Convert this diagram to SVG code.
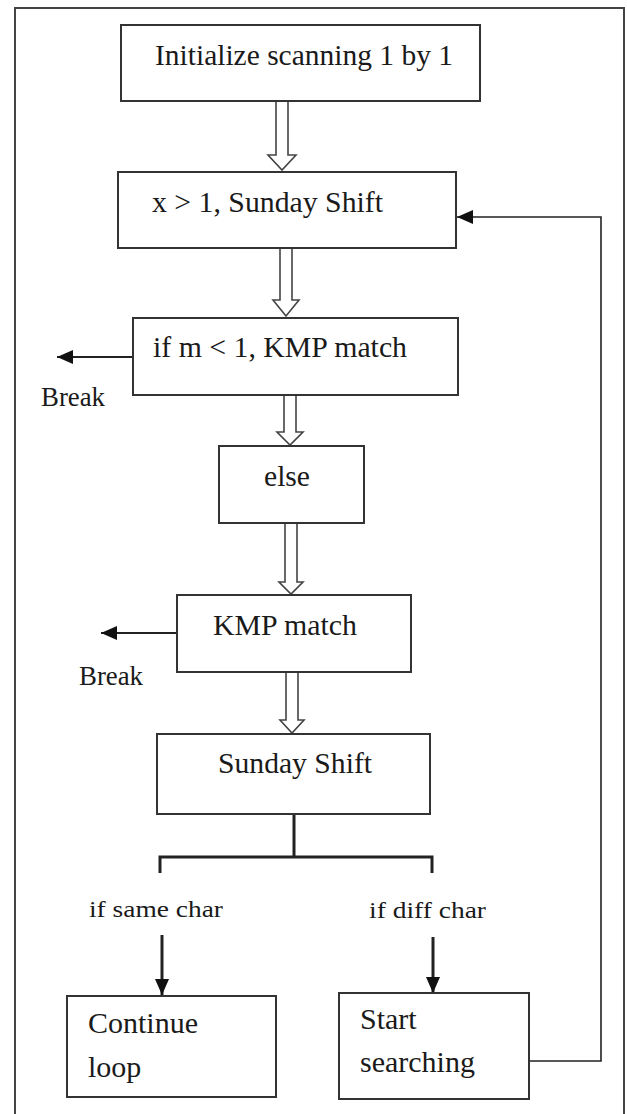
<svg xmlns="http://www.w3.org/2000/svg" width="627" height="1114" viewBox="0 0 627 1114">
<style>
.box{fill:#fff;stroke:#333;stroke-width:2}
.hol{fill:#fff;stroke:#444;stroke-width:1.6;stroke-linejoin:miter}
.t{font-family:"Liberation Serif","Times New Roman",serif;font-size:29px;fill:#1a1a1a}
.s{font-size:24px}
.ln{fill:none;stroke:#222}
</style>
<defs>
<marker id="ah" markerUnits="userSpaceOnUse" markerWidth="18" markerHeight="16" refX="16" refY="7" orient="auto">
<path d="M0,0 L16,7 L0,14 Z" fill="#111"/>
</marker>
</defs>
<rect x="0" y="0" width="627" height="1114" fill="#fff"/>
<path d="M15,1120 V8 H624 V1120" fill="none" stroke="#444" stroke-width="2"/>

<g id="connectors">
<path class="hol" d="M276,101 V155 H268 L282,170 L296,155 H288 V101"/>
<path class="hol" d="M280,248 V300 H273 L286,316 L299,300 H292 V248"/>
<path class="hol" d="M284,395 V432 H277 L290,445 L303,432 H296 V395"/>
<path class="hol" d="M285,523 V582 H279 L291,594 L303,582 H297 V523"/>
<path class="hol" d="M286,672 V720 H280 L292,733 L304,720 H298 V672"/>
<line class="ln" x1="133" y1="357" x2="57" y2="357" stroke-width="2.2" marker-end="url(#ah)"/>
<line class="ln" x1="177" y1="633" x2="101" y2="633" stroke-width="2.2" marker-end="url(#ah)"/>
<path class="ln" d="M294,814 V857 M160,873 V857 H432 V873" stroke-width="3"/>
<line class="ln" x1="162" y1="935" x2="162" y2="995" stroke-width="3" marker-end="url(#ah)"/>
<line class="ln" x1="433" y1="937" x2="433" y2="993" stroke-width="3" marker-end="url(#ah)"/>
<path class="ln" d="M529,1061 H601 V217 H457" stroke-width="1.6" marker-end="url(#ah)"/>
</g>

<g id="n1"><rect class="box" x="121" y="25" width="359" height="76"/>
<text class="t" x="155" y="65" textLength="298" lengthAdjust="spacingAndGlyphs">Initialize scanning 1 by 1</text></g>
<g id="n2"><rect class="box" x="118" y="172" width="338" height="76"/>
<text class="t" x="152" y="212" textLength="231" lengthAdjust="spacingAndGlyphs">x &gt; 1, Sunday Shift</text></g>
<g id="n3"><rect class="box" x="133" y="318" width="325" height="77"/>
<text class="t" x="153" y="357" textLength="254" lengthAdjust="spacingAndGlyphs">if m &lt; 1, KMP match</text></g>
<g id="break1"><text class="t" x="41" y="406" font-size="27" textLength="64" lengthAdjust="spacingAndGlyphs" style="font-size:27px">Break</text></g>
<g id="n4"><rect class="box" x="219" y="446" width="145" height="77"/>
<text class="t" x="264" y="486" textLength="46" lengthAdjust="spacingAndGlyphs">else</text></g>
<g id="n5"><rect class="box" x="177" y="595" width="234" height="77"/>
<text class="t" x="213" y="635" textLength="144" lengthAdjust="spacingAndGlyphs">KMP match</text></g>
<g id="break2"><text class="t" x="79" y="685" textLength="64" lengthAdjust="spacingAndGlyphs" style="font-size:27px">Break</text></g>
<g id="n6"><rect class="box" x="157" y="734" width="273" height="80"/>
<text class="t" x="218" y="773" textLength="154" lengthAdjust="spacingAndGlyphs">Sunday Shift</text></g>
<g id="lbl-same"><text class="t s" x="89" y="917" textLength="134" lengthAdjust="spacingAndGlyphs">if  same char</text></g>
<g id="lbl-diff"><text class="t s" x="369" y="918" textLength="117" lengthAdjust="spacingAndGlyphs">if diff char</text></g>
<g id="n7"><rect class="box" x="67" y="996" width="209" height="101"/>
<text class="t" x="88" y="1033" style="font-size:30px">Continue</text>
<text class="t" x="88" y="1077" style="font-size:30px">loop</text></g>
<g id="n8"><rect class="box" x="339" y="993" width="190" height="106"/>
<text class="t" x="360" y="1029" style="font-size:30px">Start</text>
<text class="t" x="360" y="1072" style="font-size:30px">searching</text></g>
</svg>
